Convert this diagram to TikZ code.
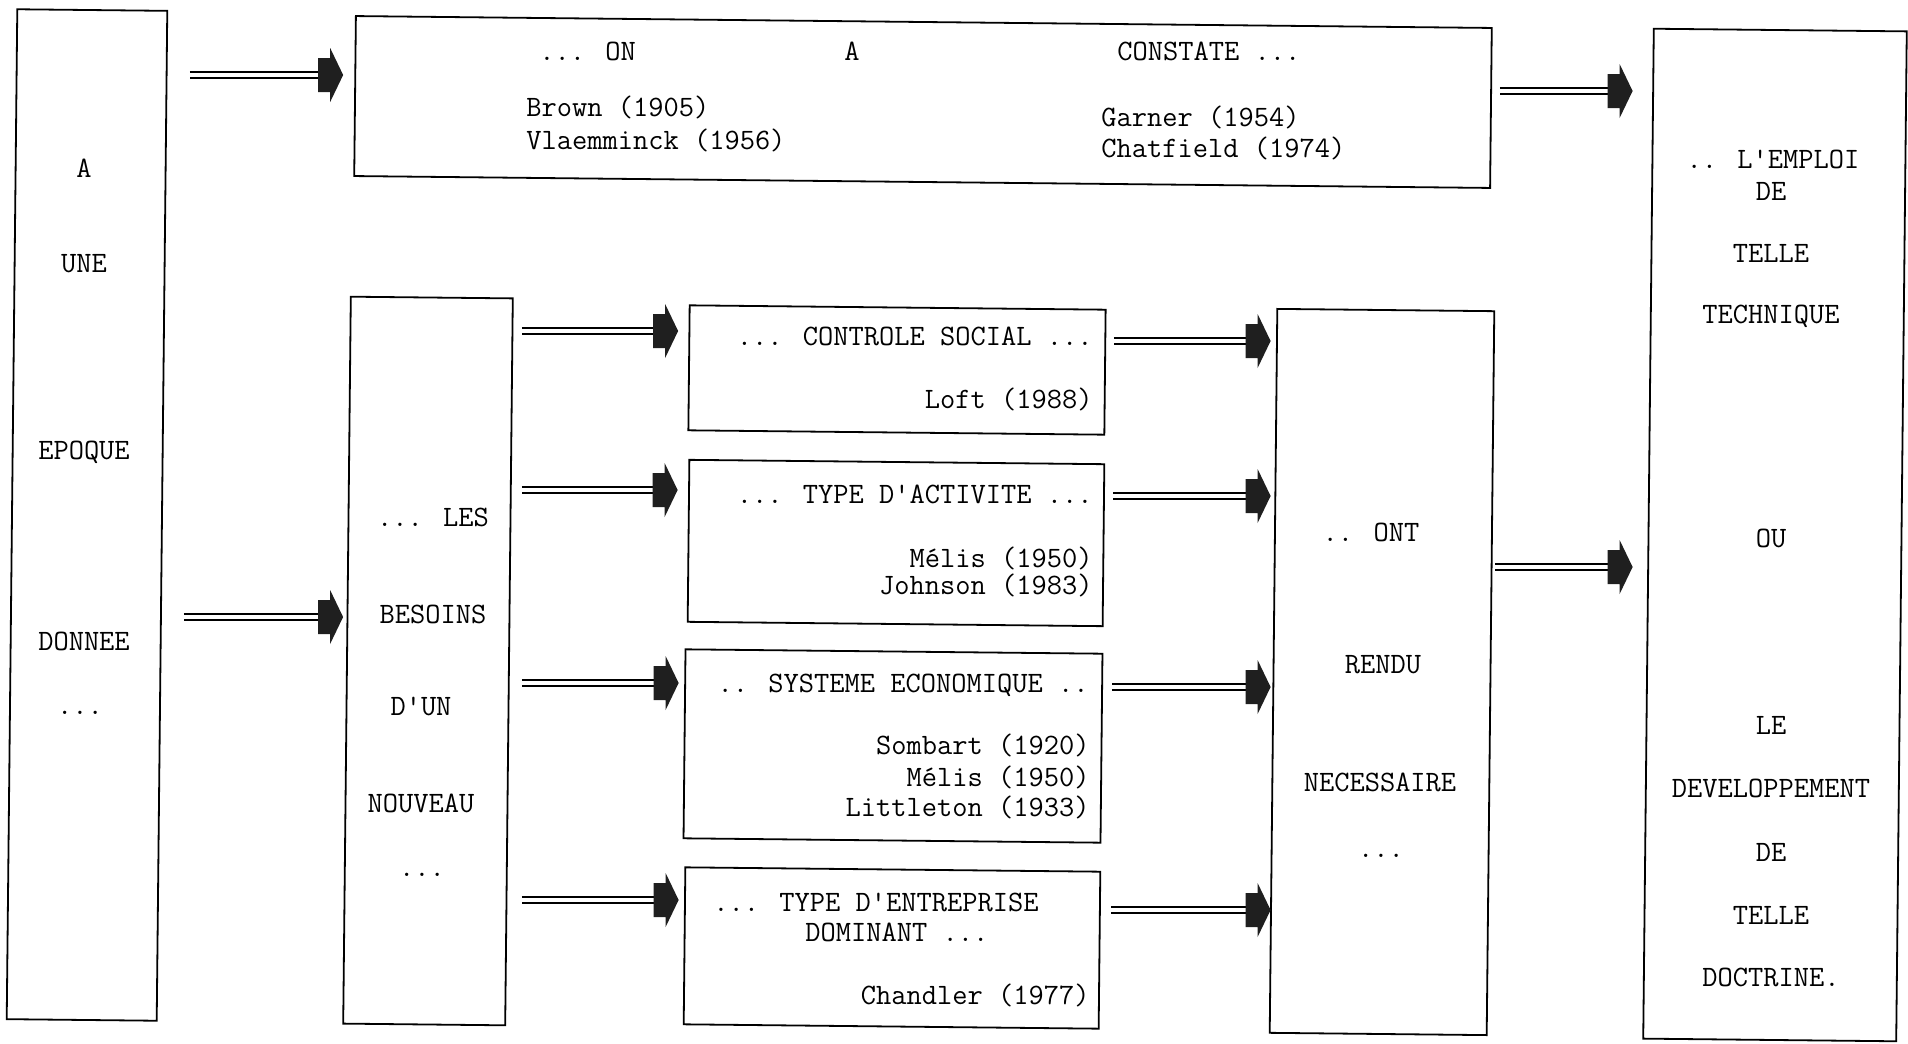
\documentclass[tikz,border=0pt]{standalone}
\usepackage{fontspec}
\usetikzlibrary{calc}
\tikzset{
  box/.style={draw, line width=0.9pt, inner sep=0pt, rotate=-0.6},
  txt/.style={font=\ttfamily\fontsize{14.8pt}{16pt}\selectfont, inner sep=0pt, text height=9pt, text depth=0pt},
  dbl/.style={double, double distance=2.4pt, line width=0.7pt},
  headfill/.style={fill=black!88},
}
\newcommand\conn[5]{%
  \draw[dbl] ($(#1.east |- 0,#3)+(#4,0)$) -- ($(#2.west |- 0,#3)+(-#5-18,0)$);
  \fill[headfill] ($(#2.west |- 0,#3)+(-#5,0)$) -- ++(-13,-27) -- ++(0,10) -- ++(-12,0) -- ++(0,34) -- ++(12,0) -- ++(0,10) -- cycle;
}
\begin{document}
\begin{tikzpicture}[x=0.5pt,y=-0.5pt]
\useasboundingbox (0,0) rectangle (1908,1044);
% boxes
\node[box, minimum width=75pt,    minimum height=505pt]   (L)  at (87,515)   {};
\node[box, minimum width=568pt,   minimum height=80pt]    (T)  at (923,102)  {};
\node[box, minimum width=126.5pt, minimum height=505pt]   (R)  at (1775,535) {};
\node[box, minimum width=81pt,    minimum height=363.5pt] (B)  at (428,661)  {};
\node[box, minimum width=208pt,   minimum height=62.5pt]  (CS) at (897,370)  {};
\node[box, minimum width=207.5pt, minimum height=81pt]    (TA) at (896,543)  {};
\node[box, minimum width=208.5pt, minimum height=94.5pt]  (SE) at (893,746)  {};
\node[box, minimum width=207.5pt, minimum height=78.5pt]  (TE) at (892,948)  {};
\node[box, minimum width=108.5pt, minimum height=362pt]   (O)  at (1382,672) {};

% left box text
\node[txt] (l1) at (84,168) {A};
\node[txt] (l2) at (84,263) {UNE};
\node[txt] (l3) at (84,450) {EPOQUE};
\node[txt] (l4) at (84,641) {DONNEE};
\node[txt, anchor=base] (l5) at (80,714) {...};

% top box text
\node[txt, anchor=west]   (t1) at (539,52)   {... ON};
\node[txt]                (t2) at (852,52)   {A};
\node[txt, anchor=west]   (t3) at (1117,52)  {CONSTATE ...};
\node[txt, anchor=west]   (t4) at (526,107)  {Brown (1905)};
\node[txt, anchor=west]   (t5) at (526,140)  {Vlaemminck (1956)};
\node[txt, anchor=west]   (t6) at (1101,117) {Garner (1954)};
\node[txt, anchor=west]   (t7) at (1101,148) {Chatfield (1974)};

% right box text
\node[txt] (r1)  at (1773,159) {.. L'EMPLOI};
\node[txt] (r2)  at (1771,191) {DE};
\node[txt] (r3)  at (1771,253) {TELLE};
\node[txt] (r4)  at (1771,314) {TECHNIQUE};
\node[txt] (r5)  at (1771,538) {OU};
\node[txt] (r6)  at (1771,725) {LE};
\node[txt] (r7)  at (1771,788) {DEVELOPPEMENT};
\node[txt] (r8)  at (1771,852) {DE};
\node[txt] (r9)  at (1771,915) {TELLE};
\node[txt] (r10) at (1771,977) {DOCTRINE.};

% besoins box text
\node[txt] (b1) at (433,517) {... LES};
\node[txt] (b2) at (433,614) {BESOINS};
\node[txt] (b3) at (421,706) {D'UN};
\node[txt] (b4) at (421,803) {NOUVEAU};
\node[txt, anchor=base] (b5) at (422,876) {...};

% middle boxes text
\node[txt, anchor=east] (cs1) at (1093,336) {... CONTROLE SOCIAL ...};
\node[txt, anchor=east] (cs2) at (1093,399) {Loft (1988)};
\node[txt, anchor=east] (ta1) at (1093,494) {... TYPE D'ACTIVITE ...};
\node[txt, anchor=east] (ta2) at (1093,558) {Mélis (1950)};
\node[txt, anchor=east] (ta3) at (1093,585) {Johnson (1983)};
\node[txt, anchor=east] (se1) at (1089,683) {.. SYSTEME ECONOMIQUE ..};
\node[txt, anchor=east] (se2) at (1090,745) {Sombart (1920)};
\node[txt, anchor=east] (se3) at (1090,777) {Mélis (1950)};
\node[txt, anchor=east] (se4) at (1090,807) {Littleton (1933)};
\node[txt, anchor=west] (te1) at (713,902)  {... TYPE D'ENTREPRISE};
\node[txt, anchor=west] (te2) at (805,932)  {DOMINANT ...};
\node[txt, anchor=east] (te3) at (1090,995) {Chandler (1977)};

% ont box text
\node[txt] (o1) at (1371,532) {.. ONT};
\node[txt] (o2) at (1383,664) {RENDU};
\node[txt] (o3) at (1380,782) {NECESSAIRE};
\node[txt, anchor=base] (o4) at (1381,857) {...};

% connectors
\conn{L}{T}{75}{27}{11}
\conn{T}{R}{91}{8}{15}
\conn{L}{B}{617}{21}{3}
\conn{B}{CS}{331}{12}{10}
\conn{B}{TA}{490}{12}{10}
\conn{B}{SE}{683}{12}{5}
\conn{B}{TE}{900}{12}{5}
\conn{CS}{O}{341}{8}{2}
\conn{TA}{O}{496}{9}{2}
\conn{SE}{O}{687}{10}{2}
\conn{TE}{O}{910}{11}{2}
\conn{O}{R}{567}{4}{15}
\end{tikzpicture}
\end{document}
